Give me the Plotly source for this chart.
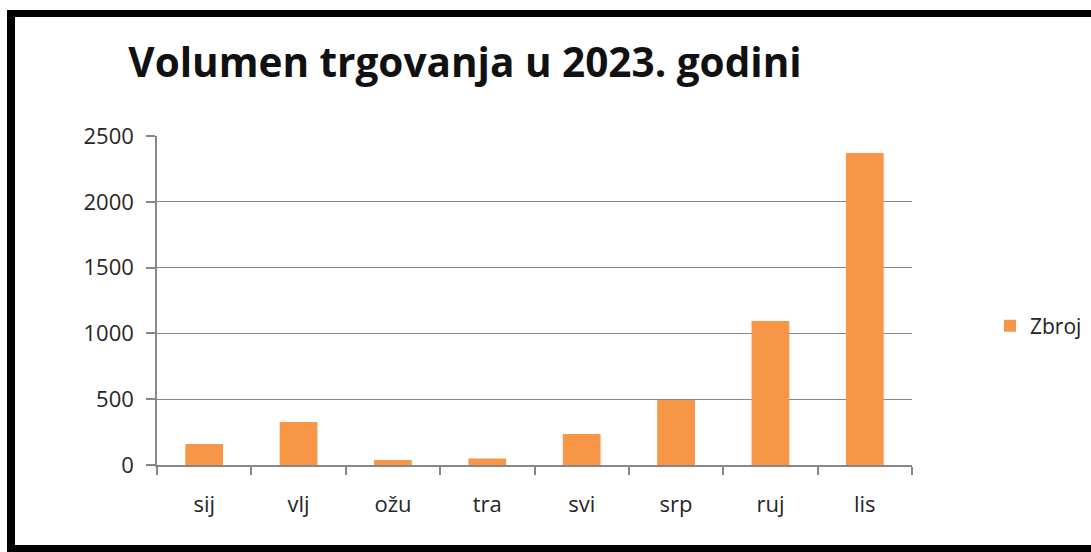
import plotly.graph_objects as go

months = ["sij", "vlj", "ožu", "tra", "svi", "srp", "ruj", "lis"]
zbroj = [160, 327, 38, 50, 236, 494, 1095, 2370]
y_ticks = [0, 500, 1000, 1500, 2000, 2500]

W, H = 1091, 552
L, R, T, B = 157, 912, 136, 465

def px(x):
    return (x - L) / (R - L)

def py(y):
    return (B - y) / (B - T)

fig = go.Figure()
fig.add_trace(go.Bar(
    x=months, y=zbroj, name="Zbroj",
    marker=dict(color="#F79646", line=dict(width=0)),
))

shapes = []
for x0, y0, x1, y1 in [(7, 10, 1091, 17), (7, 10, 15, 552), (7, 545, 1091, 552)]:
    shapes.append(dict(type="rect", xref="paper", yref="paper",
                       x0=px(x0), x1=px(x1), y0=py(y1), y1=py(y0),
                       fillcolor="black", line=dict(width=0), layer="above"))

fig.update_layout(
    width=W, height=H,
    margin=dict(l=L, r=W - R, t=T, b=H - B, pad=0, autoexpand=False),
    paper_bgcolor="white", plot_bgcolor="white",
    font=dict(family="'Open Sans', sans-serif", color="#262626", size=22),
    title=dict(text="<b>Volumen trgovanja u 2023. godini</b>",
               x=465 / W, xanchor="center", y=1 - 63 / H, yanchor="middle",
               font=dict(size=40.5, color="#111111")),
    bargap=0.6,
    showlegend=True,
    legend=dict(xref="container", yref="container", x=990 / W, xanchor="left",
                y=1 - 326 / H, yanchor="middle",
                font=dict(size=21, color="#222222"), bgcolor="rgba(0,0,0,0)",
                itemwidth=30),
    shapes=shapes,
    xaxis=dict(showgrid=False, showline=True, linecolor="#878787", linewidth=1.5,
               ticks="outside", tickson="boundaries", ticklen=8, tickcolor="#878787",
               tickwidth=1.5, ticklabelstandoff=19),
    yaxis=dict(range=[0, 2500], tickvals=y_ticks, showgrid=True, gridcolor="#878787",
               gridwidth=1.2, showline=True, linecolor="#878787", linewidth=1.5,
               ticks="outside", ticklen=9, tickcolor="#878787", tickwidth=1.5,
               zeroline=False, ticklabelstandoff=8),
)
fig.write_html("out.html", config={"displayModeBar": False},
               post_script="document.body.style.margin='0';document.body.style.overflow='hidden';")
